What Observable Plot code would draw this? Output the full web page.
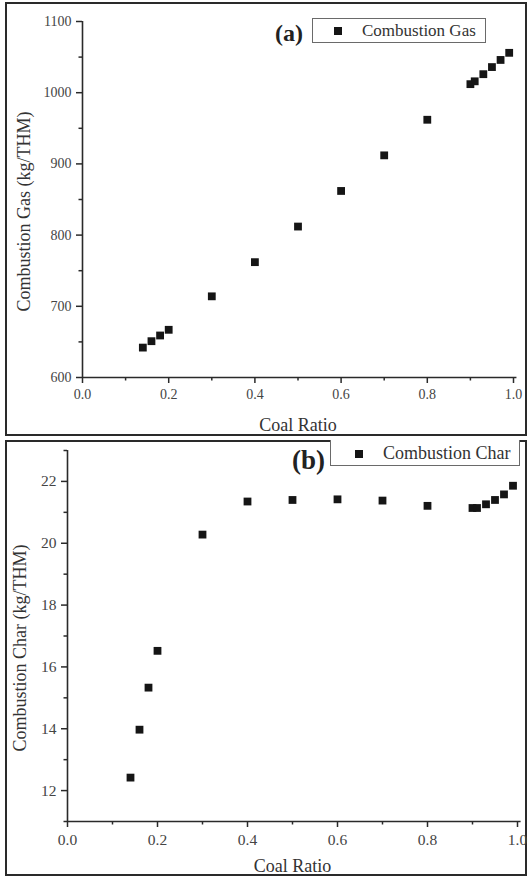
<!DOCTYPE html>
<html><head><meta charset="utf-8">
<script src="https://cdn.jsdelivr.net/npm/d3@7"></script>
<script src="https://cdn.jsdelivr.net/npm/@observablehq/plot@0.6"></script>
<style>
body{margin:0;background:#fff;}
#page{position:relative;width:532px;height:880px;overflow:hidden;font-family:"Liberation Serif",serif;background:#fff;}
#page svg, #page svg text{font-family:"Liberation Serif",serif !important;}
.frame{position:absolute;left:5px;width:518px;border:2.5px solid #2a2a2a;}
.plot{position:absolute;left:0;}
.legend{position:absolute;border:1px solid #6a6a6a;background:#fff;box-sizing:border-box;}
.mk{position:absolute;width:8px;height:8px;background:#151515;}
.lt{position:absolute;color:#333;white-space:nowrap;}
.tag{position:absolute;font-weight:bold;color:#222;white-space:nowrap;}
</style></head><body>
<div id="page">
  <div class="frame" style="top:2px;height:430px;"></div>
  <div class="frame" style="top:440px;height:432px;"></div>
  <div id="pa" class="plot" style="top:0;"></div>
  <div id="pb" class="plot" style="top:440px;"></div>
  <div class="tag" style="left:275px;top:18px;font-size:24px;line-height:30px;">(a)</div>
  <div class="legend" style="left:312px;top:18px;width:174px;height:25px;">
    <div class="mk" style="left:21px;top:8px;"></div>
    <div class="lt" style="left:49px;top:0;font-size:17px;line-height:23px;">Combustion Gas</div>
  </div>
  <div class="legend" style="left:330px;top:440px;width:190px;height:26px;border-top:none;">
    <div class="mk" style="left:24px;top:10px;"></div>
    <div class="lt" style="left:52px;top:1px;font-size:18px;line-height:24px;">Combustion Char</div>
  </div>
  <div class="tag" style="left:292px;top:444px;font-size:27px;line-height:32px;">(b)</div>
</div>
<script>
const coalRatio = [0.14,0.16,0.18,0.20,0.30,0.40,0.50,0.60,0.70,0.80,0.90,0.91,0.93,0.95,0.97,0.99];
const combustionGas = [642,651,659,667,714,762,812,862,912,962,1012,1016,1026,1036,1046,1056];
const combustionChar = [12.42,13.97,15.33,16.52,20.28,21.35,21.40,21.42,21.38,21.21,21.14,21.14,21.26,21.40,21.58,21.86];
const xTicks = [0,0.2,0.4,0.6,0.8,1.0];
const xMinorTicks = [0.1,0.3,0.5,0.7,0.9];
const gasTicks = [600,700,800,900,1000,1100];
const gasMinorTicks = [650,750,850,950,1050];
const charTicks = [12,14,16,18,20,22];
const charMinorTicks = [11,13,15,17,19,21,23];

const ink = "#2a2a2a";
const tickText = "#444";
const serif = "Liberation Serif";

function panel({values, yDomain, yTicks, yMinor, yTitle, marginLeft, marginRight, marginTop, marginBottom, tickFont, titleDx, titleDy, xTitleDy}) {
  const data = coalRatio.map((x, i) => ({x, y: values[i]}));
  return Plot.plot({
    width: 532, height: 440,
    marginLeft, marginRight, marginTop, marginBottom,
    style: {fontFamily: serif, background: "transparent"},
    x: {domain: [0, 1]},
    y: {domain: yDomain},
    marks: [
      Plot.ruleY([yDomain[0]], {x1: 0, x2: 1.008, stroke: ink, strokeWidth: 1.6}),
      Plot.ruleX([0], {stroke: ink, strokeWidth: 1.6}),
      Plot.axisX({ticks: xTicks, tickSize: 6, tickPadding: 6, tickFormat: d3.format(".1f"), stroke: ink, strokeWidth: 1.5, fill: tickText, fontSize: tickFont, fontFamily: serif, label: null}),
      Plot.axisX({ticks: xMinorTicks, tickSize: 3.5, tickFormat: () => "", stroke: ink, strokeWidth: 1.5, label: null}),
      Plot.axisY({ticks: yTicks, tickSize: 6, tickPadding: 5, tickFormat: d3.format("d"), stroke: ink, strokeWidth: 1.5, fill: tickText, fontSize: tickFont, fontFamily: serif, label: null}),
      Plot.axisY({ticks: yMinor, tickSize: 3.5, tickFormat: () => "", stroke: ink, strokeWidth: 1.5, label: null}),
      Plot.text(["Coal Ratio"], {frameAnchor: "bottom", dy: xTitleDy, lineAnchor: "bottom", textAnchor: "middle", fontSize: 18, fontFamily: serif, fill: "#333"}),
      Plot.text([yTitle], {frameAnchor: "left", rotate: -90, dx: titleDx, dy: titleDy, lineAnchor: "middle", textAnchor: "middle", fontSize: 18, fontFamily: serif, fill: "#333"}),
      Plot.dot(data, {x: "x", y: "y", symbol: "square", r: 4.4, fill: "#151515", stroke: null})
    ]
  });
}

document.getElementById("pa").append(panel({
  values: combustionGas, yDomain: [600, 1100], yTicks: gasTicks, yMinor: gasMinorTicks,
  yTitle: "Combustion Gas (kg/THM)", marginLeft: 82, marginRight: 19, marginTop: 21, marginBottom: 63,
  tickFont: 14, titleDx: -58, titleDy: 12, xTitleDy: 53
}));
document.getElementById("pb").append(panel({
  values: combustionChar, yDomain: [11, 23], yTicks: charTicks, yMinor: charMinorTicks,
  yTitle: "Combustion Char (kg/THM)", marginLeft: 67, marginRight: 15, marginTop: 10, marginBottom: 59,
  tickFont: 15.5, titleDx: -47, titleDy: 12, xTitleDy: 50
}));
</script>
</body></html>
